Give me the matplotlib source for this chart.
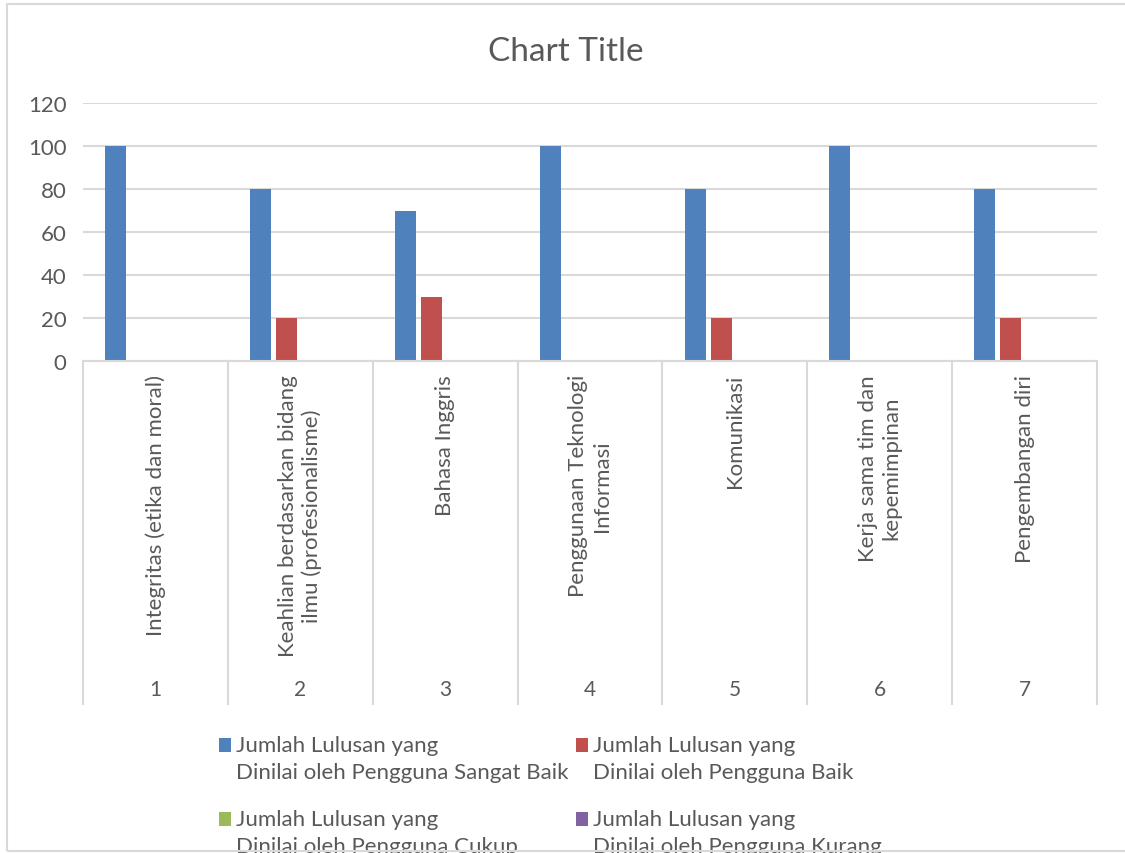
import matplotlib.pyplot as plt
from matplotlib.patches import Rectangle
from matplotlib.legend_handler import HandlerPatch
import numpy as np

plt.rcParams['font.family'] = ['Lato', 'DejaVu Sans']

# data
positions = [1, 2, 3, 4, 5, 6, 7]
aspek = [
    "Integritas (etika dan moral)",
    "Keahlian berdasarkan bidang\nilmu (profesionalisme)",
    "Bahasa Inggris",
    "Penggunaan Teknologi\nInformasi",
    "Komunikasi",
    "Kerja sama tim dan\nkepemimpinan",
    "Pengembangan diri",
]
sangat_baik = [100, 80, 70, 100, 80, 100, 80]
baik = [0, 20, 30, 0, 20, 0, 20]
cukup = [0, 0, 0, 0, 0, 0, 0]
kurang = [0, 0, 0, 0, 0, 0, 0]

series = [
    ("Jumlah Lulusan yang\nDinilai oleh Pengguna Sangat Baik", sangat_baik, '#4f81bd'),
    ("Jumlah Lulusan yang\nDinilai oleh Pengguna Baik", baik, '#c0504d'),
    ("Jumlah Lulusan yang\nDinilai oleh Pengguna Cukup", cukup, '#9bbb59'),
    ("Jumlah Lulusan yang\nDinilai oleh Pengguna Kurang", kurang, '#8064a2'),
]

W, H = 1125, 854
fig = plt.figure(figsize=(W / 100, H / 100), dpi=100)
txt = '#595959'
grid = '#d9d9d9'

# chart border (cut off on the right like the reference)
fig.patches.append(Rectangle((7 / W, 1 - 852 / H), 1.2, (852 - 5) / H,
                             transform=fig.transFigure, fill=False,
                             edgecolor=grid, linewidth=1.5, zorder=10))

ax = fig.add_axes([83 / W, 1 - 362 / H, (1097 - 83) / W, (362 - 104) / H])

x = np.arange(len(positions))
bw = 0.145
step = 0.18
bars = []
for k, (name, vals, col) in enumerate(series):
    bars.append(ax.bar(x + (k - 1.5) * step - 0.005, vals, width=bw, color=col,
                       label=name, zorder=3))

ax.set_xlim(-0.5, len(positions) - 0.5)
ax.set_ylim(0, 120)
ax.set_yticks(range(0, 121, 20))
ax.tick_params(axis='y', length=0, labelsize=16, labelcolor=txt, pad=12)
ax.set_xticks([])
ax.grid(axis='y', color=grid, linewidth=1.5, zorder=0)
for s in ax.spines.values():
    s.set_visible(False)

# multi-level category axis
tr = ax.get_xaxis_transform()
ax.plot([-0.5, len(positions) - 0.5], [0, 0], color=grid, lw=1.5,
        transform=tr, clip_on=False, zorder=4)
for b in np.arange(-0.5, len(positions), 1.0):
    ax.plot([b, b], [0, -1.33], color=grid, lw=1.5, transform=tr, clip_on=False)
for i, (lab, num) in enumerate(zip(aspek, positions)):
    ax.text(i, -0.05, lab, rotation=90, ha='center', va='top',
            multialignment='center', fontsize=16, color=txt, transform=tr)
    ax.text(i, -1.27, str(num), ha='center', va='center', fontsize=15,
            color=txt, transform=tr)

fig.text(566 / W, 1 - 52 / H, "Chart Title", ha='center', va='center',
         fontsize=24, color=txt)


def top_square(legend, orig_handle, xdescent, ydescent, width, height, fontsize):
    # marker sits on the first text line, like Excel
    return Rectangle((-xdescent, -ydescent + 0.62 * fontsize), width, height)


order = [0, 2, 1, 3]
handles = [bars[i][0] for i in order]
labels = [series[i][0] for i in order]
leg = fig.legend(handles, labels, loc='upper left',
                 bbox_to_anchor=(219 / W, 1 - 736 / H),
                 ncol=2, frameon=False, fontsize=16, handlelength=0.55,
                 handleheight=0.55, handletextpad=0.2, columnspacing=0.35,
                 labelspacing=1.2, borderaxespad=0, borderpad=0,
                 handler_map={Rectangle: HandlerPatch(patch_func=top_square)})
for t in leg.get_texts():
    t.set_color(txt)
    t.set_linespacing(1.45)

fig.savefig('out.png', dpi=100)
